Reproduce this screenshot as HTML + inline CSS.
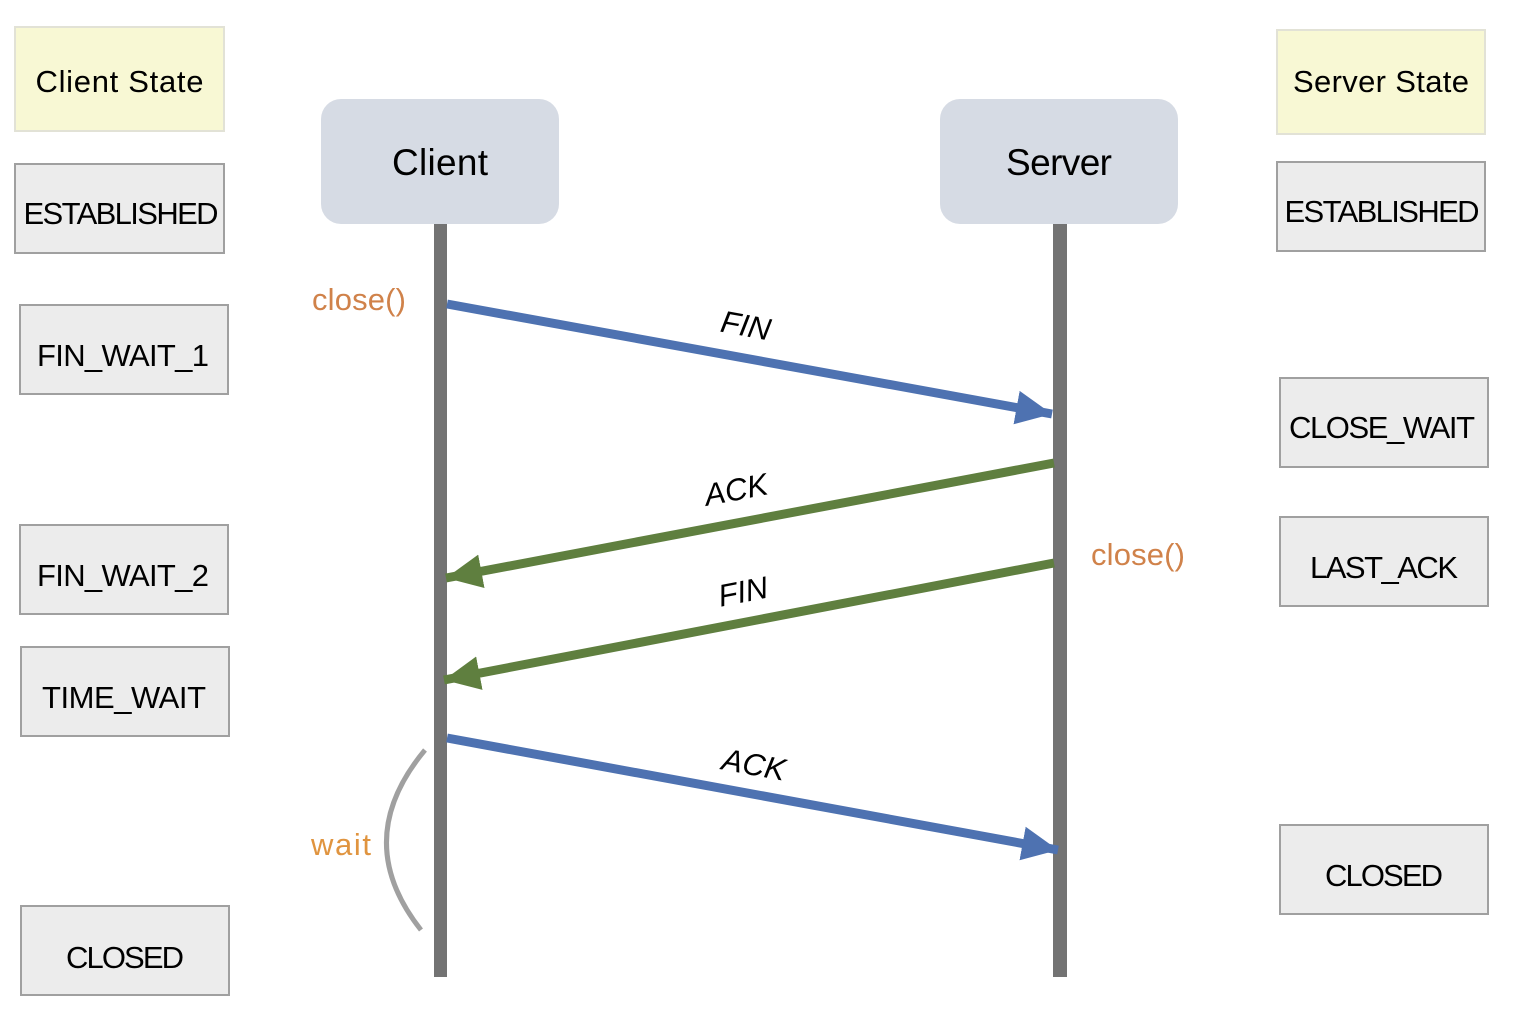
<!DOCTYPE html>
<html><head><meta charset="utf-8"><style>
html,body{margin:0;padding:0;background:#fff;}
svg{display:block;font-family:"Liberation Sans",sans-serif;}
</style></head><body>
<svg width="1514" height="1024" viewBox="0 0 1514 1024" xmlns="http://www.w3.org/2000/svg">
<defs>
<marker id="hb" markerUnits="userSpaceOnUse" markerWidth="38" markerHeight="36" refX="36" refY="18" orient="auto"><polygon points="0,1 36,18 0,35" fill="#4e72b1"/></marker>
<marker id="hg" markerUnits="userSpaceOnUse" markerWidth="38" markerHeight="36" refX="36" refY="18" orient="auto"><polygon points="0,1 36,18 0,35" fill="#5f7f3f"/></marker>
</defs>
<g font-size="31" fill="#000" text-anchor="middle">
<rect x="15" y="27" width="209" height="104" fill="#f8f8d4" stroke="#e2e2d6" stroke-width="2"/>
<text x="119.5" y="92" textLength="168">Client State</text>
<rect x="1277" y="30" width="208" height="104" fill="#f8f8d4" stroke="#e2e2d6" stroke-width="2"/>
<text x="1381" y="92" textLength="176">Server State</text>
<g fill="#ececec" stroke="#a0a0a0" stroke-width="2">
<rect x="15" y="164" width="209" height="89"/>
<rect x="20" y="305" width="208" height="89"/>
<rect x="20" y="525" width="208" height="89"/>
<rect x="21" y="647" width="208" height="89"/>
<rect x="21" y="906" width="208" height="89"/>
<rect x="1277" y="162" width="208" height="89"/>
<rect x="1280" y="378" width="208" height="89"/>
<rect x="1280" y="517" width="208" height="89"/>
<rect x="1280" y="825" width="208" height="89"/>
</g>
<text x="121" y="224" textLength="195">ESTABLISHED</text>
<text x="123" y="366" textLength="172">FIN_WAIT_1</text>
<text x="123" y="586" textLength="172">FIN_WAIT_2</text>
<text x="124" y="708" textLength="164">TIME_WAIT</text>
<text x="125" y="968" textLength="118">CLOSED</text>
<text x="1382" y="222" textLength="195">ESTABLISHED</text>
<text x="1382" y="438" textLength="186">CLOSE_WAIT</text>
<text x="1384" y="578" textLength="148">LAST_ACK</text>
<text x="1384" y="886" textLength="118">CLOSED</text>
<rect x="321" y="99" width="238" height="125" rx="20" fill="#d6dbe4"/>
<rect x="940" y="99" width="238" height="125" rx="20" fill="#d6dbe4"/>
<text x="440" y="175" font-size="37" textLength="96">Client</text>
<text x="1059" y="175" font-size="37" textLength="106">Server</text>
</g>
<rect x="434" y="224" width="13" height="753" fill="#737373"/>
<rect x="1053" y="224" width="14" height="753" fill="#737373"/>
<line x1="447" y1="304" x2="1052" y2="414" stroke="#4e72b1" stroke-width="9" marker-end="url(#hb)"/>
<line x1="1054" y1="463" x2="446" y2="578" stroke="#5f7f3f" stroke-width="9" marker-end="url(#hg)"/>
<line x1="1054" y1="563" x2="444" y2="680" stroke="#5f7f3f" stroke-width="9" marker-end="url(#hg)"/>
<line x1="447" y1="738" x2="1058" y2="850" stroke="#4e72b1" stroke-width="9" marker-end="url(#hb)"/>
<g font-size="31" fill="#000" text-anchor="middle" font-style="italic">
<text transform="translate(744,336) rotate(10.3)">FIN</text>
<text transform="translate(738,500) rotate(-10.7)">ACK</text>
<text transform="translate(745,602) rotate(-10.9)">FIN</text>
<text transform="translate(752,775) rotate(10.4)">ACK</text>
</g>
<path d="M425,750 Q350,840 421,930" fill="none" stroke="#a0a0a0" stroke-width="5"/>
<g font-size="31">
<text x="312" y="310" textLength="94" fill="#d0824a">close()</text>
<text x="1091" y="565" textLength="94" fill="#d0824a">close()</text>
<text x="311" y="855" textLength="60" fill="#e0943f">wait</text>
</g>
</svg>
</body></html>
